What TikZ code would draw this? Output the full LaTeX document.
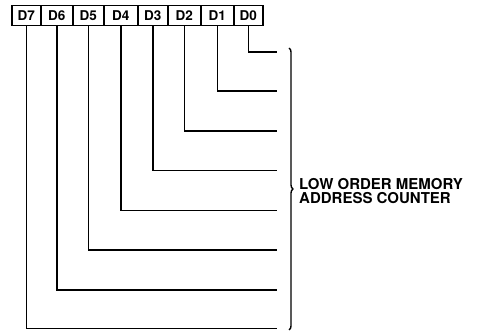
\documentclass[tikz,border=0pt]{standalone}
\usepackage{fontspec}
\setmainfont{TeX Gyre Heros}
\usetikzlibrary{decorations.pathreplacing}
\tikzset{
  bitbox/.style={draw, line width=1.5pt, minimum height=20pt, inner sep=0pt, anchor=north west, font=\bfseries\fontsize{13.5}{13.5}\selectfont},
  wire/.style={line width=1.5pt},
}
\begin{document}
\begin{tikzpicture}[x=1pt,y=-1pt]
\useasboundingbox (0,0) rectangle (477,331);
\node[bitbox, minimum width=29pt] (b7) at (11,5) {D7};
\node[bitbox, minimum width=32pt] (b6) at (40,5) {D6};
\node[bitbox, minimum width=31pt] (b5) at (72,5) {D5};
\node[bitbox, minimum width=34pt] (b4) at (103,5) {D4};
\node[bitbox, minimum width=30pt] (b3) at (137,5) {D3};
\node[bitbox, minimum width=33pt] (b2) at (167,5) {D2};
\node[bitbox, minimum width=33pt] (b1) at (200,5) {D1};
\node[bitbox, minimum width=29pt] (b0) at (233,5) {D0};
\coordinate (r0) at (277,52);
\coordinate (r1) at (277,91);
\coordinate (r2) at (277,131);
\coordinate (r3) at (277,170.5);
\coordinate (r4) at (277,210.5);
\coordinate (r5) at (277,250);
\coordinate (r6) at (277,290);
\coordinate (r7) at (277,328.5);
\foreach \i in {0,...,7} {
  \draw[wire] (b\i.south) |- (r\i);
}
\coordinate (bt) at (289,48);
\coordinate (bb) at (289,330);
\draw[line width=1.4pt, decorate, decoration={brace, amplitude=4pt, mirror}] (bb) -- (bt);
\node[anchor=west, align=left, inner sep=0pt, font=\bfseries\fontsize{15}{13.5}\selectfont] (lbl) at (299,191) {LOW ORDER MEMORY\\ADDRESS COUNTER};
\end{tikzpicture}
\end{document}
